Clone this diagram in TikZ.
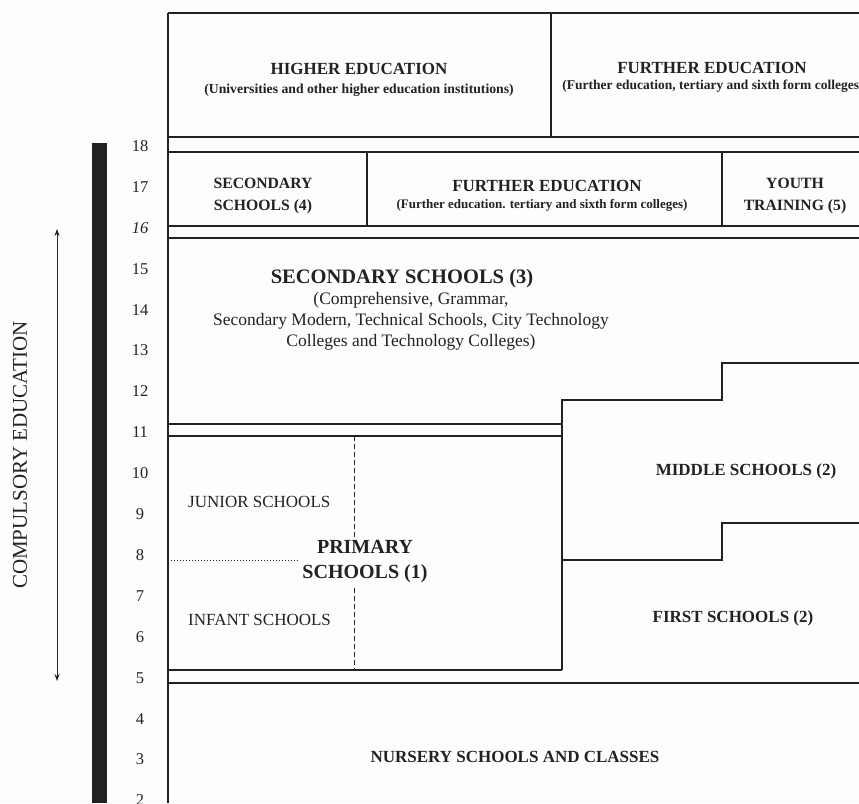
\documentclass[tikz,border=0pt]{standalone}
\usepackage{fontspec}
\setmainfont{Liberation Serif}
\usetikzlibrary{arrows.meta}
\definecolor{ink}{HTML}{222222}
\definecolor{paper}{HTML}{FDFDFD}
\begin{document}
\begin{tikzpicture}[x=1pt,y=-1pt,
  frame/.style={draw=ink,line width=1.1pt},
  dashline/.style={draw=ink,line width=0.8pt,dash pattern=on 5pt off 3pt},
  dotline/.style={draw=ink,line width=0.8pt,dash pattern=on 1pt off 2pt},
  hd/.style={text=ink,inner sep=0pt,align=center,font=\fontsize{17}{21}\selectfont\bfseries},
  hdsmall/.style={text=ink,inner sep=0pt,align=center,font=\fontsize{15.7}{21.5}\selectfont\bfseries},
  subtl/.style={text=ink,inner sep=0pt,align=center,font=\fontsize{13}{15}\selectfont\bfseries},
  big/.style={text=ink,inner sep=0pt,align=center,font=\fontsize{20.5}{24}\selectfont\bfseries},
  prim/.style={text=ink,inner sep=2pt,align=center,fill=paper,font=\fontsize{20}{25}\selectfont\bfseries},
  desc/.style={text=ink,inner sep=0pt,align=center,font=\fontsize{17.5}{21}\selectfont},
  plainlbl/.style={text=ink,inner sep=0pt,anchor=west,font=\fontsize{17}{20}\selectfont},
  num/.style={text=ink,inner sep=0pt,font=\fontsize{16.5}{19}\selectfont},
  sidelbl/.style={text=ink,inner sep=0pt,rotate=90,font=\fontsize{21}{24}\selectfont},
  bar/.style={fill=ink,draw=none}
]
\fill[paper] (0,0) rectangle (859,803);
\useasboundingbox (0,0) rectangle (859,803);
\clip (0,0) rectangle (859,803);

% left border
\draw[frame] (168,13) -- (168,803);
% top box
\draw[frame] (168,13) -- (859,13);
\draw[frame] (551,13) -- (551,137);
\draw[frame] (168,137) -- (859,137);
\draw[frame] (168,152) -- (859,152);
% age 17 row
\draw[frame] (367,152) -- (367,226);
\draw[frame] (722,152) -- (722,226);
\draw[frame] (168,226) -- (859,226);
\draw[frame] (168,238) -- (859,238);
% secondary / middle boundary
\draw[frame] (168,424) -- (562,424);
\draw[frame] (562,670) -- (562,400) -- (722,400) -- (722,363) -- (859,363);
% primary top
\draw[frame] (168,436) -- (562,436);
% middle / first boundary
\draw[frame] (562,560) -- (722,560) -- (722,523) -- (859,523);
% primary bottom
\draw[frame] (168,670) -- (562,670);
% nursery top
\draw[frame] (168,683) -- (859,683);
% primary internal divisions
\draw[dashline] (354,436) -- (354,670);
\draw[dotline] (168,560) -- (310,560);

% age bar
\fill[bar] (92,143) rectangle (107,803);
% compulsory arrow
\coordinate (arrtop) at (57,229);
\coordinate (arrbot) at (57,681);
\draw[draw=ink,line width=0.9pt,{Stealth[length=7pt,width=5pt]}-{Stealth[length=7pt,width=5pt]}] (arrtop) -- (arrbot);
\node[sidelbl] (compulsory) at (20,455) {COMPULSORY EDUCATION};

% ages
\foreach \n in {2,3,4,5,6,7,8,9,10,11,12,13,14,15,17,18}
  \node[num] (age\n) at (140,{146+(18-\n)*40.9}) {\n};
\node[num,font=\fontsize{16.5}{19}\selectfont\itshape] (age16) at (140,{146+2*40.9}) {16};

% labels
\node[hd] (higher) at (359,69) {HIGHER EDUCATION};
\node[subtl,font=\fontsize{13.7}{15}\selectfont\bfseries] (highersub) at (359,90) {(Universities and other higher education institutions)};
\node[hd] (furthertop) at (712,68) {FURTHER EDUCATION};
\node[subtl,font=\fontsize{13.5}{15}\selectfont\bfseries] (furthertopsub) at (713,86) {(Further education, tertiary and sixth form colleges)};

\node[hdsmall] (sec4) at (263,196) {SECONDARY\\SCHOOLS (4)};
\node[hd] (furthermid) at (547,186) {FURTHER EDUCATION};
\node[subtl] (furthermidsub) at (542,205) {(Further education. tertiary and sixth form colleges)};
\node[hdsmall] (youth) at (795,196) {YOUTH\\TRAINING (5)};

\node[big] (sec3) at (402,279) {SECONDARY SCHOOLS (3)};
\node[desc] (sec3desc) at (411,321) {(Comprehensive, Grammar,\\Secondary Modern, Technical Schools, City Technology\\Colleges and Technology Colleges)};

\node[plainlbl] (junior) at (188,502) {JUNIOR SCHOOLS};
\node[plainlbl] (infant) at (188,620) {INFANT SCHOOLS};
\node[prim] (primary) at (365,562) {PRIMARY\\SCHOOLS (1)};

\node[hd] (middle) at (746,471) {MIDDLE SCHOOLS (2)};
\node[hd] (first) at (733,618) {FIRST SCHOOLS (2)};
\node[hd] (nursery) at (515,757) {NURSERY SCHOOLS AND CLASSES};
\end{tikzpicture}
\end{document}
